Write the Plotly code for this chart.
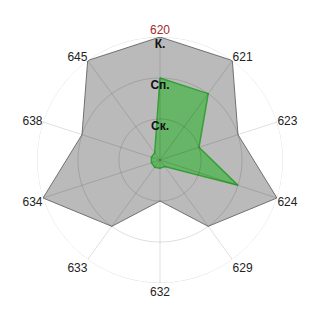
import plotly.graph_objects as go

categories = ["620", "621", "623", "624", "629", "632", "633", "634", "638", "645"]
tick_labels = ["<span style='color:#a52a2a'>620</span>", "621", "623", "624", "629",
               "632", "633", "634", "638", "645"]
gray_values = [3, 3, 2, 3, 2, 1, 2, 3, 2, 3]
green_values = [2, 2, 1, 2, 0.2, 0.2, 0.22, 0.22, 0.22, 0.22]
level_values = [1, 2, 3]
level_labels = ["Ск.", "Сп.", "К."]

step = 360 / len(categories)
angles = [i * step for i in range(len(categories))]
grid = "rgba(0,0,0,0.13)"

fig = go.Figure()
fig.add_trace(go.Scatterpolar(
    r=gray_values + [gray_values[0]], theta=angles + [angles[0]],
    mode="lines", fill="toself", fillcolor="#bababa",
    line=dict(color="#707070", width=1), hoverinfo="skip"))
fig.add_trace(go.Scatterpolar(
    r=green_values + [green_values[0]], theta=angles + [angles[0]],
    mode="lines", fill="toself", fillcolor="#67b567",
    line=dict(color="#35a035", width=1.5), hoverinfo="skip"))

# grid drawn above the fills, as in the reference
spoke_r, spoke_t = [], []
for a in angles:
    spoke_r += [0, level_values[-1], None]
    spoke_t += [a, a, None]
fig.add_trace(go.Scatterpolar(r=spoke_r, theta=spoke_t, mode="lines",
                              line=dict(color=grid, width=1), hoverinfo="skip"))
circ_t = [k * 2 for k in range(181)]
for lv in level_values:
    fig.add_trace(go.Scatterpolar(r=[lv] * len(circ_t), theta=circ_t, mode="lines",
                                  line=dict(color=grid, width=1), hoverinfo="skip"))

# level labels sit just inside each grid circle
label_inset = 0.2
fig.add_trace(go.Scatterpolar(
    r=[lv - label_inset for lv in level_values], theta=[angles[0]] * 3, mode="text",
    text=["<b>%s</b>" % t for t in level_labels], textposition="middle center",
    textfont=dict(family="Liberation Sans, Arial", size=12, color="#111"),
    hoverinfo="skip"))

fig.update_layout(
    width=320, height=320, showlegend=False,
    margin=dict(l=37, r=37, t=37, b=37),
    paper_bgcolor="white",
    font=dict(family="Liberation Sans, Arial", size=12, color="#222"),
    polar=dict(
        domain=dict(x=[0, 1], y=[0, 1]),
        bgcolor="white",
        radialaxis=dict(range=[0, 3], tickvals=level_values, showticklabels=False,
                        ticks="", showline=False, showgrid=False),
        angularaxis=dict(direction="clockwise", rotation=90,
                         tickmode="array", tickvals=angles, ticktext=tick_labels,
                         ticks="", showline=False, showgrid=False,
                         tickfont=dict(size=12, color="#222")),
    ),
)
fig.write_html("out.html")
